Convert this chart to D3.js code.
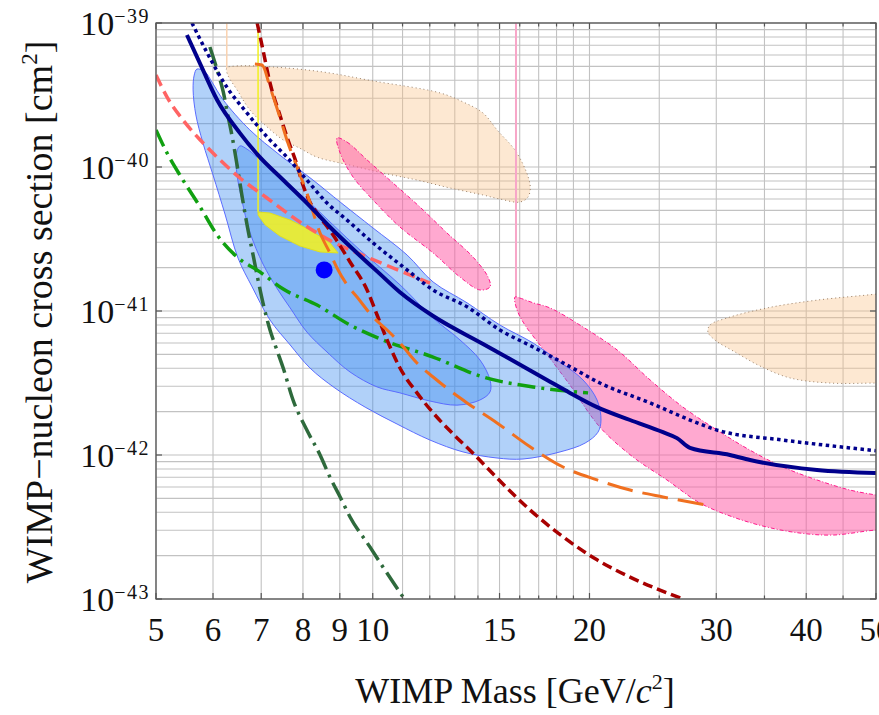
<!DOCTYPE html>
<html>
<head>
<meta charset="utf-8">
<script src="https://cdn.jsdelivr.net/npm/d3@7"></script>
<style>
	body { margin: 0; background: #fff; }
	svg { display: block; font-family: "Liberation Serif", "DejaVu Serif", serif; }
</style>
</head>
<body>
<div id="chart"></div>
<script>
///////////////////////////////////////////////////////////////////////////////
//// Data: [WIMP mass (GeV/c^2), cross section (cm^2)] ////////////////////////
///////////////////////////////////////////////////////////////////////////////

const xTickValues = [5, 6, 7, 8, 9, 10, 15, 20, 30, 40, 50];
const xGridValues = [5, 6, 7, 8, 9, 10, 11, 12, 13, 14, 15, 16, 17, 18, 19, 20, 25, 30, 35, 40, 45, 50];
const yTickValues = [1e-43, 1e-42, 1e-41, 1e-40, 1e-39];
const yTickExponents = ["\u221243", "\u221242", "\u221241", "\u221240", "\u221239"];

// Navy solid limit
const limitSolid = [
	[5.52, 8.25e-40], [5.81, 4.72e-40], [6.08, 2.92e-40], [6.54, 1.72e-40], [6.97, 1.17e-40],
	[7.51, 8.12e-41], [8.10, 5.62e-41], [8.72, 3.83e-41], [9.51, 2.53e-41], [10.23, 1.81e-41],
	[10.91, 1.35e-41], [12.13, 9.23e-42], [14.23, 5.90e-42], [15.51, 4.64e-42], [17.46, 3.32e-42],
	[18.79, 2.70e-42], [20.49, 2.15e-42], [22.77, 1.75e-42], [25.30, 1.44e-42], [26.46, 1.31e-42],
	[27.58, 1.12e-42], [31.34, 1.00e-42], [33.42, 9.23e-43], [41.40, 7.87e-43], [50, 7.50e-43]
];

// Navy dotted limit
const limitDotted = [
	[5.61, 1.00e-39], [5.89, 6.19e-40], [6.27, 3.59e-40], [6.69, 2.37e-40], [7.13, 1.62e-40],
	[7.60, 1.17e-40], [8.10, 8.12e-41], [8.64, 5.62e-41], [9.21, 4.28e-41], [10.01, 2.97e-41],
	[11.16, 1.93e-41], [12.13, 1.40e-41], [13.52, 1.07e-41], [15.02, 7.38e-42], [16.70, 5.62e-42],
	[18.61, 4.22e-42], [20.68, 3.16e-42], [24.28, 2.30e-42], [27.58, 1.75e-42], [30.07, 1.49e-42],
	[37.13, 1.27e-42], [46.01, 1.12e-42], [50, 1.07e-42]
];

// Salmon dashed limit
const limitSalmon = [
	[5.00, 4.35e-40], [5.18, 3.06e-40], [5.45, 2.12e-40], [5.76, 1.54e-40], [6.08, 1.17e-40],
	[6.54, 8.39e-41], [7.13, 6.09e-41], [7.92, 4.15e-41], [8.81, 3.01e-41], [9.82, 2.37e-41],
	[10.91, 1.90e-41], [12.01, 1.56e-41]
];

// Green dash-dot limit
const limitGreen = [
	[5.00, 1.81e-40], [5.18, 1.25e-40], [5.45, 8.12e-41], [5.76, 5.27e-41], [6.08, 3.37e-41],
	[6.48, 2.37e-41], [6.97, 1.87e-41], [7.51, 1.42e-41], [8.37, 1.10e-41], [9.30, 7.99e-42],
	[10.33, 6.29e-42], [12.13, 4.79e-42], [14.23, 3.48e-42], [16.70, 2.97e-42], [19.91, 2.70e-42]
];

// Dark green dash-dot limit
const limitDarkGreen = [
	[5.94, 6.81e-40], [6.08, 4.72e-40], [6.20, 3.32e-40], [6.29, 2.30e-40], [6.38, 1.62e-40],
	[6.48, 1.03e-40], [6.58, 6.39e-41], [6.69, 3.96e-41], [6.82, 2.45e-41], [6.93, 1.64e-41],
	[7.06, 1.07e-41], [7.20, 7.38e-42], [7.36, 5.36e-42], [7.51, 4.02e-42], [7.75, 2.41e-42],
	[8.10, 1.49e-42], [8.45, 1.00e-42], [8.72, 7.03e-43], [9.01, 5.11e-43], [9.30, 3.71e-43],
	[9.91, 2.30e-43], [10.33, 1.67e-43], [11.09, 9.84e-44]
];

// Dark red dashed limit
const limitRed = [
	[6.91, 1.00e-39], [7.04, 6.49e-40], [7.20, 3.83e-40], [7.43, 2.30e-40], [7.60, 1.62e-40],
	[7.85, 1.03e-40], [8.00, 7.50e-41], [8.18, 5.71e-41], [8.37, 4.79e-41], [8.81, 3.37e-41],
	[9.30, 2.19e-41], [9.82, 1.40e-41], [10.14, 9.38e-42], [10.47, 6.29e-42], [10.91, 4.02e-42],
	[11.52, 2.70e-42], [12.13, 1.96e-42], [12.93, 1.40e-42], [13.78, 1.03e-42], [14.88, 6.92e-43],
	[16.54, 4.15e-43], [18.38, 2.70e-43], [20.49, 1.87e-43], [22.77, 1.42e-43], [26.97, 1.00e-43]
];

// Orange long-dashed limit
const limitOrange = [
	[6.86, 5.19e-40], [7.02, 5.11e-40], [7.20, 3.59e-40], [7.43, 2.22e-40], [7.60, 1.54e-40],
	[7.85, 1.00e-40], [8.10, 6.60e-41], [8.45, 3.48e-41], [8.72, 2.53e-41], [8.92, 1.99e-41],
	[9.21, 1.52e-41], [9.51, 1.25e-41], [10.01, 9.08e-42], [10.47, 7.38e-42], [10.91, 5.99e-42],
	[11.52, 4.35e-42], [12.13, 3.48e-42], [12.93, 2.70e-42], [13.52, 2.30e-42], [14.88, 1.67e-42],
	[16.54, 1.14e-42], [18.38, 8.25e-43], [20.49, 6.71e-43], [22.77, 5.71e-43], [25.30, 5.11e-43],
	[29.12, 4.49e-43]
];

// Peach regions
const peachUpper = [
	[6.27, 4.87e-40], [6.48, 5.03e-40], [7.27, 4.95e-40], [8.53, 4.57e-40], [10.01, 3.96e-40],
	[12.40, 3.27e-40], [13.35, 2.83e-40], [14.23, 2.37e-40], [14.88, 1.81e-40], [15.86, 1.25e-40],
	[16.54, 7.50e-41], [16.43, 6.19e-41], [16.01, 5.71e-41], [15.02, 5.99e-41], [14.23, 6.39e-41],
	[12.80, 7.15e-41], [11.52, 8.12e-41], [10.33, 9.08e-41], [9.30, 1.03e-40], [8.37, 1.17e-40],
	[7.92, 1.35e-40], [7.51, 1.54e-40], [7.13, 1.90e-40], [6.75, 2.49e-40], [6.48, 3.43e-40],
	[6.29, 4.35e-40]
];
const peachUpperEdge = [[6.27, 1e-39], [6.27, 4.87e-40]];
const peachRight = [
	[53, 1.36e-41], [50, 1.31e-41], [41.40, 1.19e-41], [35.28, 1.05e-41], [31.04, 8.94e-42],
	[29.40, 7.99e-42], [29.21, 7.15e-42], [29.87, 6.29e-42], [31.85, 5.19e-42], [34.50, 4.15e-42],
	[37.97, 3.43e-42], [43.16, 3.16e-42], [50, 3.16e-42], [53, 3.16e-42]
];

// Pink regions
const pinkUpper = [
	[8.92, 1.59e-40], [9.21, 1.49e-40], [9.82, 1.12e-40], [10.67, 7.74e-41], [11.63, 5.27e-41],
	[12.68, 3.48e-41], [13.78, 2.37e-41], [14.46, 1.72e-41], [14.55, 1.47e-41], [14.09, 1.40e-41],
	[13.22, 1.72e-41], [12.13, 2.53e-41], [10.91, 3.83e-41], [10.01, 5.90e-41], [9.39, 8.52e-41],
	[9.01, 1.25e-40]
];
const pinkLower = [
	[15.76, 1.25e-41], [16.01, 1.23e-41], [16.70, 1.14e-41], [17.63, 1.05e-41], [19.59, 7.74e-42],
	[21.85, 5.36e-42], [24.28, 3.32e-42], [26.97, 2.15e-42], [30.07, 1.49e-42], [33.42, 1.08e-42],
	[37.13, 8.25e-43], [41.40, 6.71e-43], [46.01, 5.71e-43], [50, 5.27e-43], [53, 5.0e-43],
	[53, 3.0e-43], [50, 3.01e-43], [43.57, 2.78e-43], [39.21, 2.87e-43], [35.28, 3.16e-43],
	[31.64, 3.71e-43], [28.48, 4.64e-43], [25.62, 6.71e-43], [22.99, 9.68e-43], [20.68, 1.56e-42],
	[18.79, 3.06e-42], [17.91, 4.22e-42], [17.07, 5.81e-42], [16.27, 7.99e-42], [15.86, 1.02e-41]
];
const pinkLowerEdge = [[15.81, 1e-39], [15.81, 1.25e-41]];

// Blue regions
const blueOuter = [
	[5.70, 4.79e-40], [5.85, 4.57e-40], [5.98, 3.89e-40], [6.20, 2.92e-40], [6.75, 1.81e-40],
	[7.43, 1.21e-40], [8.26, 8.12e-41], [9.01, 5.71e-41], [10.01, 3.77e-41], [11.16, 2.45e-41],
	[12.13, 1.59e-41], [13.52, 1.14e-41], [15.02, 7.99e-42], [16.70, 5.99e-42], [18.20, 4.42e-42],
	[19.59, 3.32e-42], [20.49, 2.41e-42], [20.75, 1.75e-42], [20.55, 1.44e-42], [19.72, 1.21e-42],
	[18.20, 1.05e-42], [16.17, 9.38e-43], [14.88, 9.53e-43], [13.35, 1.05e-42], [12.01, 1.27e-42],
	[10.81, 1.64e-42], [9.76, 2.15e-42], [8.86, 2.92e-42], [8.18, 4.02e-42], [7.68, 5.81e-42],
	[7.20, 8.66e-42], [6.80, 1.47e-41], [6.50, 2.33e-41], [6.24, 4.64e-41], [6.00, 8.80e-41],
	[5.81, 1.47e-40], [5.68, 2.30e-40], [5.63, 3.43e-40], [5.65, 4.35e-40]
];
const blueInner = [
	[6.54, 1.40e-40], [6.69, 1.33e-40], [6.91, 1.17e-40], [7.43, 8.52e-41], [8.10, 5.90e-41],
	[8.81, 3.96e-41], [9.60, 2.65e-41], [10.91, 1.52e-41], [12.13, 8.94e-42], [13.22, 6.29e-42],
	[14.09, 4.57e-42], [14.55, 3.32e-42], [14.55, 2.74e-42], [14.09, 2.41e-42], [13.09, 2.22e-42],
	[12.01, 2.37e-42], [10.91, 2.70e-42], [10.14, 2.97e-42], [9.30, 3.77e-42], [8.64, 5.19e-42],
	[8.10, 7.15e-42], [7.68, 1.05e-41], [7.36, 1.44e-41], [7.04, 2.12e-41], [6.75, 3.54e-41],
	[6.58, 5.90e-41], [6.48, 8.80e-41], [6.46, 1.21e-40]
];

// Yellow region and its marker line
const yellowRegion = [
	[6.93, 4.87e-41], [7.20, 4.79e-41], [7.68, 4.28e-41], [8.18, 3.65e-41], [8.72, 2.97e-41],
	[8.95, 2.53e-41], [8.45, 2.57e-41], [7.92, 2.83e-41], [7.43, 3.32e-41], [7.09, 3.96e-41],
	[6.93, 4.64e-41]
];
const yellowEdge = [[6.93, 1e-39], [6.93, 4.87e-41]];

// Best-fit point
const bestFit = [8.56, 1.93e-41];

///////////////////////////////////////////////////////////////////////////////
//// Set Up ///////////////////////////////////////////////////////////////////
///////////////////////////////////////////////////////////////////////////////

const width = 879,
			height = 715;

const plot = { left: 156, right: 876, top: 23, bottom: 599 };

const x = d3.scaleLog()
		.domain([5, 50])
		.range([plot.left, plot.right]);

const y = d3.scaleLog()
		.domain([1e-43, 1e-39])
		.range([plot.bottom, plot.top]);

const svg = d3.select("#chart").append("svg")
		.attr("width", width)
		.attr("height", height)
		.attr("font-family", "Liberation Serif, DejaVu Serif, serif");

svg.append("clipPath")
		.attr("id", "plot-clip")
	.append("rect")
		.attr("x", plot.left)
		.attr("y", plot.top)
		.attr("width", plot.right - plot.left)
		.attr("height", plot.bottom - plot.top);

const lineCurve = d3.line()
		.x(d => x(d[0]))
		.y(d => y(d[1]))
		.curve(d3.curveMonotoneX);

const lineStraight = d3.line()
		.x(d => x(d[0]))
		.y(d => y(d[1]));

const area = d3.line()
		.x(d => x(d[0]))
		.y(d => y(d[1]))
		.curve(d3.curveCatmullRomClosed.alpha(0.5));

const areaStraight = d3.line()
		.x(d => x(d[0]))
		.y(d => y(d[1]))
		.curve(d3.curveLinearClosed);

///////////////////////////////////////////////////////////////////////////////
//// Grid /////////////////////////////////////////////////////////////////////
///////////////////////////////////////////////////////////////////////////////

const yGridValues = [];
[-43, -42, -41, -40].forEach(e => {
	for (let k = 1; k <= 9; k++) yGridValues.push(k * Math.pow(10, e));
});
yGridValues.push(1e-39);

const grid = svg.append("g").attr("class", "grid");
grid.selectAll(".gx")
	.data(xGridValues)
	.enter().append("line")
		.attr("x1", d => x(d)).attr("x2", d => x(d))
		.attr("y1", plot.top).attr("y2", plot.bottom)
		.attr("stroke", "#c2c2c2")
		.attr("stroke-width", 1.1);
grid.selectAll(".gy")
	.data(yGridValues)
	.enter().append("line")
		.attr("x1", plot.left).attr("x2", plot.right)
		.attr("y1", d => y(d)).attr("y2", d => y(d))
		.attr("stroke", "#c2c2c2")
		.attr("stroke-width", 1.1);

///////////////////////////////////////////////////////////////////////////////
//// Regions //////////////////////////////////////////////////////////////////
///////////////////////////////////////////////////////////////////////////////

const regions = svg.append("g").attr("clip-path", "url(#plot-clip)");

// Peach
regions.append("path")
		.attr("d", lineStraight(peachUpperEdge))
		.attr("stroke", "#f9d2b0")
		.attr("stroke-width", 1.5)
		.attr("fill", "none");
[peachUpper, peachRight].forEach(r => {
	regions.append("path")
			.attr("d", area(r))
			.attr("fill", "rgb(250,190,130)")
			.attr("fill-opacity", 0.36)
			.attr("stroke", "#9a8068")
			.attr("stroke-width", 1)
			.attr("stroke-dasharray", "1,3");
});

// Pink
regions.append("path")
		.attr("d", lineStraight(pinkLowerEdge))
		.attr("stroke", "#f7a6c8")
		.attr("stroke-width", 2)
		.attr("fill", "none");
[pinkUpper, pinkLower].forEach(r => {
	regions.append("path")
			.attr("d", area(r))
			.attr("fill", "rgb(255,90,165)")
			.attr("fill-opacity", 0.52)
			.attr("stroke", "#ff1a8c")
			.attr("stroke-width", 1)
			.attr("stroke-dasharray", "4,2,1,2");
});

// Blue
[blueOuter, blueInner].forEach(r => {
	regions.append("path")
			.attr("d", area(r))
			.attr("fill", "rgb(60,140,240)")
			.attr("fill-opacity", 0.4)
			.attr("stroke", "#5a6cff")
			.attr("stroke-width", 1);
});

// Yellow
regions.append("path")
		.attr("d", lineStraight(yellowEdge))
		.attr("stroke", "#f0f020")
		.attr("stroke-width", 1.5)
		.attr("fill", "none");
regions.append("path")
		.attr("d", areaStraight(yellowRegion))
		.attr("fill", "rgb(240,240,40)")
		.attr("fill-opacity", 0.9)
		.attr("stroke", "#e0e020")
		.attr("stroke-width", 1);

///////////////////////////////////////////////////////////////////////////////
//// Limit Curves /////////////////////////////////////////////////////////////
///////////////////////////////////////////////////////////////////////////////

const curves = [
	{ data: limitDarkGreen, color: "#2e6a3c", dash: "20,6,3,6", width: 3.5 },
	{ data: limitGreen, color: "#10a010", dash: "18,6,3,6", width: 3.5 },
	{ data: limitSalmon, color: "#ff6464", dash: "12,6", width: 3.5 },
	{ data: limitRed, color: "#a80000", dash: "10,5", width: 3.5 },
	{ data: limitOrange, color: "#f07020", dash: "26,10", width: 3 },
	{ data: limitDotted, color: "#00008c", dash: "3.5,3.5", width: 3.5 },
	{ data: limitSolid, color: "#00008c", dash: null, width: 4 }
];

const lines = svg.append("g").attr("clip-path", "url(#plot-clip)");
lines.selectAll("path")
	.data(curves)
	.enter().append("path")
		.attr("d", d => lineCurve(d.data))
		.attr("fill", "none")
		.attr("stroke", d => d.color)
		.attr("stroke-width", d => d.width)
		.attr("stroke-dasharray", d => d.dash);

lines.append("circle")
		.attr("cx", x(bestFit[0]))
		.attr("cy", y(bestFit[1]))
		.attr("r", 8.5)
		.attr("fill", "#0000ff");

///////////////////////////////////////////////////////////////////////////////
//// Frame and Ticks //////////////////////////////////////////////////////////
///////////////////////////////////////////////////////////////////////////////

const frameColor = "#555";
svg.append("rect")
		.attr("x", plot.left)
		.attr("y", plot.top)
		.attr("width", plot.right - plot.left)
		.attr("height", plot.bottom - plot.top)
		.attr("fill", "none")
		.attr("stroke", frameColor)
		.attr("stroke-width", 1.3);

const ticks = svg.append("g").attr("stroke", frameColor).attr("stroke-width", 1.2);
xGridValues.forEach(v => {
	const len = xTickValues.includes(v) ? 6 : 3.5;
	ticks.append("line").attr("x1", x(v)).attr("x2", x(v)).attr("y1", plot.bottom).attr("y2", plot.bottom - len);
	ticks.append("line").attr("x1", x(v)).attr("x2", x(v)).attr("y1", plot.top).attr("y2", plot.top + len);
});
yTickValues.forEach(v => {
	ticks.append("line").attr("x1", plot.left).attr("x2", plot.left + 6).attr("y1", y(v)).attr("y2", y(v));
	ticks.append("line").attr("x1", plot.right).attr("x2", plot.right - 6).attr("y1", y(v)).attr("y2", y(v));
});

///////////////////////////////////////////////////////////////////////////////
//// Labels ///////////////////////////////////////////////////////////////////
///////////////////////////////////////////////////////////////////////////////

svg.append("g").selectAll("text")
	.data(xTickValues)
	.enter().append("text")
		.attr("x", d => x(d))
		.attr("y", plot.bottom + 42)
		.attr("text-anchor", "middle")
		.attr("font-size", 33)
		.attr("fill", "#111")
		.text(d => d);

const yLabels = svg.append("g").selectAll("text")
	.data(yTickValues)
	.enter().append("text")
		.attr("x", 150)
		.attr("y", d => y(d) + 12)
		.attr("text-anchor", "end")
		.attr("fill", "#111");
yLabels.append("tspan")
		.attr("font-size", 34)
		.text("10");
yLabels.append("tspan")
		.attr("font-size", 20)
		.attr("letter-spacing", 1.5)
		.attr("dy", -12)
		.text((d, i) => yTickExponents[i]);

const xTitle = svg.append("text")
		.attr("x", 515)
		.attr("y", 703)
		.attr("text-anchor", "middle")
		.attr("font-size", 36)
		.attr("fill", "#111");
xTitle.append("tspan").text("WIMP Mass [GeV/");
xTitle.append("tspan").attr("font-style", "italic").text("c");
xTitle.append("tspan").attr("font-size", 22).attr("dy", -14).text("2");
xTitle.append("tspan").attr("dy", 14).text("]");

const yTitle = svg.append("text")
		.attr("transform", "translate(52, 312) rotate(-90)")
		.attr("text-anchor", "middle")
		.attr("font-size", 38)
		.attr("fill", "#111");
yTitle.append("tspan").text("WIMP\u2212nucleon cross section [cm");
yTitle.append("tspan").attr("font-size", 23).attr("dy", -15).text("2");
yTitle.append("tspan").attr("dy", 15).text("]");
</script>
</body>
</html>
